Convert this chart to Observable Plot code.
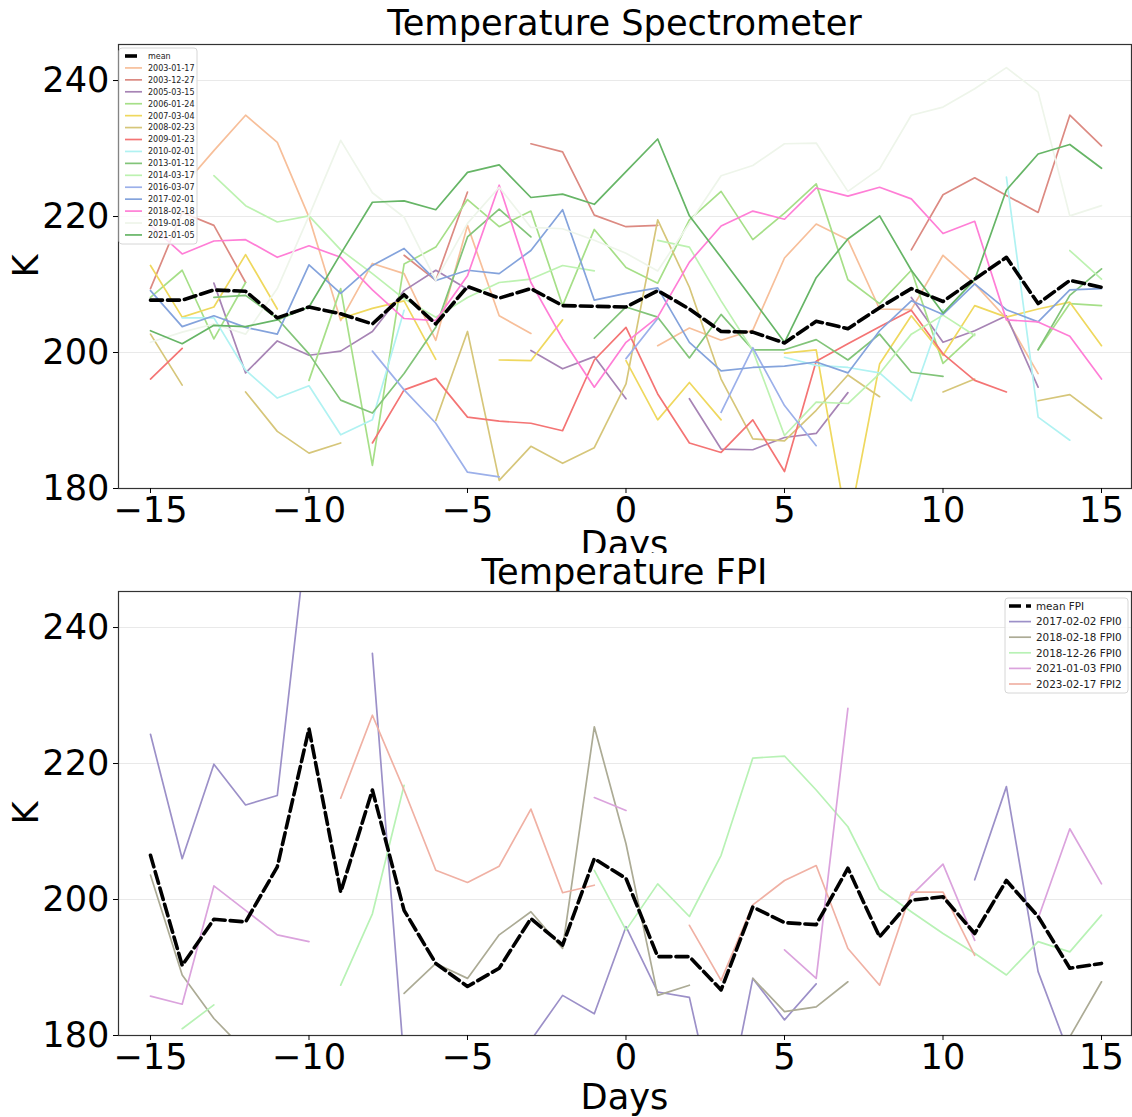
<!DOCTYPE html>
<html><head><meta charset="utf-8">
<script src="https://cdn.jsdelivr.net/npm/d3@7"></script>
<script src="https://cdn.jsdelivr.net/npm/@observablehq/plot@0.6"></script>
<style>
body{margin:0;background:#fff;font-family:"DejaVu Sans";}
#fig{position:relative;width:1132px;height:1117px;overflow:hidden;background:#fff}
.pane{position:absolute;left:0;width:1132px;overflow:hidden}
.big{position:absolute;font-family:"DejaVu Sans";font-size:35.2px;line-height:40px;white-space:nowrap;color:#000}
.ttl{left:118px;width:1013px;text-align:center}
.ylab{width:40px;height:40px;text-align:center;transform:rotate(-90deg)}
#leg{position:absolute;left:0;top:0;pointer-events:none}
</style></head><body>
<div id="fig">
  <div class="pane" id="topPane" style="top:0;height:553px">
    <div class="big ttl" style="top:524px">Days</div>
  </div>
  <div class="pane" id="botPane" style="top:547px;height:570px">
    <div class="big ttl" style="top:530px">Days</div>
  </div>
  <div class="big ttl" style="top:3px">Temperature Spectrometer</div>
  <div class="big ttl" style="top:552px">Temperature FPI</div>
  <div class="big ylab" style="left:6px;top:246px">K</div>
  <div class="big ylab" style="left:6px;top:793px">K</div>
</div>
<script>
// ---------- data ----------
const days = d3.range(-15, 16);

// Spectrometer
const meanSpec = [207.7,207.7,209.2,209.0,205.1,206.7,205.7,204.2,208.5,204.2,209.7,208.0,209.4,206.9,206.8,206.7,209.1,206.4,203.1,203.0,201.4,204.6,203.5,206.6,209.4,207.5,210.8,214.0,207.2,210.6,209.6];
const s20030117 = [null,224.3,229.7,234.9,230.9,219.9,204.7,213.1,211.6,201.8,218.7,205.4,202.8,null,null,null,201.0,203.6,201.8,203.3,213.9,218.9,216.6,206.4,206.3,214.3,210.1,205.0,196.9,null,null];
const s20031227 = [209.4,220.6,218.7,210.3,null,null,null,null,214.3,210.6,223.6,null,230.7,229.5,220.2,218.5,218.7,null,null,null,null,null,null,null,215.1,223.2,225.7,223.1,220.6,234.9,230.4];
const s20050315 = [null,null,210.2,197.0,201.7,199.6,200.2,203.1,209.1,212.1,209.3,null,200.3,197.6,199.4,193.2,null,193.2,185.8,185.7,187.5,188.1,194.1,null,208.1,201.5,203.2,205.4,194.9,null,null];
const s20060124 = [208.1,212.1,202.0,210.3,null,195.9,209.4,183.4,213.0,215.5,222.5,218.5,220.8,206.9,218.1,212.5,210.2,219.5,223.7,216.6,220.5,224.8,210.7,207.2,212.1,198.4,202.7,null,200.4,207.2,206.9];
const s20070304 = [212.8,205.2,206.7,214.4,206.4,null,205.0,206.5,207.6,199.0,null,198.9,198.8,204.8,null,198.8,190.1,195.6,190.1,null,199.9,200.4,174.0,198.3,205.4,199.6,206.9,205.2,206.4,207.4,201.0];
const s20080223 = [202.7,195.2,null,194.2,188.4,185.2,186.7,null,null,190.0,203.1,181.2,186.2,183.7,186.0,195.4,219.5,209.6,196.1,187.3,187.0,191.5,196.7,193.5,null,194.2,196.1,null,192.9,193.8,190.3];
const s20090123 = [196.1,200.6,null,null,null,null,null,186.7,194.5,196.2,190.5,189.9,189.6,188.5,198.9,203.7,193.9,186.7,185.3,190.1,182.5,198.7,201.3,203.8,206.2,199.8,195.9,194.2,null,null,null];
const s20100201 = [null,205.1,205.1,197.4,193.3,195.1,187.9,190.1,206.2,null,null,null,null,null,null,null,null,null,null,null,199.3,198.1,197.8,197.0,192.9,206.3,null,225.8,190.5,187.1,null];
const s20130112 = [null,null,208.1,208.4,205.0,199.8,193.0,191.1,196.9,203.7,217.0,221.1,217.0,null,202.1,206.7,205.2,199.2,205.6,200.4,200.4,201.9,198.9,202.7,197.1,196.5,null,null,200.4,208.4,212.3];
const s20140317 = [null,null,226.0,221.6,219.2,220.1,215.1,211.6,207.9,205.2,208.1,210.3,210.8,212.8,212.0,null,216.5,215.5,207.6,200.3,187.8,192.7,192.5,196.9,202.7,205.5,202.5,null,null,215.0,210.8];
const s20160307 = [null,null,null,null,null,null,null,200.2,194.5,189.6,182.4,181.7,null,null,null,199.1,205.0,null,191.2,200.7,192.2,186.3,null,null,null,null,null,null,null,null,null];
const s20170201 = [209.1,203.8,205.4,203.7,202.7,212.9,208.7,212.8,215.3,210.6,212.1,211.6,215.0,221.0,207.7,208.7,209.5,201.5,197.3,197.8,198.0,198.6,197.0,203.2,207.6,205.6,210.1,206.3,204.5,209.2,209.4];
const s20180218 = [218.7,214.5,216.4,216.6,214.0,215.7,214.0,209.2,205.0,204.7,211.3,224.6,210.3,202.0,194.9,201.5,205.2,213.3,218.6,220.8,219.6,224.2,223.0,224.3,222.6,217.5,219.3,204.8,204.5,202.4,196.1];
const s20190108 = [201.5,203.0,204.2,202.7,209.4,220.1,231.2,223.5,219.9,210.6,219.0,224.3,218.4,218.2,216.5,214.6,212.0,219.0,226.0,227.5,230.7,230.8,223.7,227.0,234.9,236.1,238.8,241.9,238.3,220.1,221.6];
const s20210105 = [203.2,201.3,204.0,203.8,204.8,206.7,214.5,222.1,222.3,221.0,226.5,227.6,222.8,223.3,221.8,226.6,231.4,220.1,214.0,207.8,201.5,211.0,216.7,220.1,212.1,205.8,210.7,223.9,229.2,230.6,227.1];

const specNames = ["2003-01-17","2003-12-27","2005-03-15","2006-01-24","2007-03-04","2008-02-23","2009-01-23","2010-02-01","2013-01-12","2014-03-17","2016-03-07","2017-02-01","2018-02-18","2019-01-08","2021-01-05"];
const specValues = [s20030117,s20031227,s20050315,s20060124,s20070304,s20080223,s20090123,s20100201,s20130112,s20140317,s20160307,s20170201,s20180218,s20190108,s20210105];
const specColors = ["#f7bf9a","#dc8a82","#a784b5","#a6df88","#efd85e","#d6c67a","#f47474","#b0f2f2","#82c479","#bdf2b1","#9cb0ea","#84a3dc","#ff7ed6","#eef5ea","#66b566"];

// FPI
const meanFPI = [206.5,190.3,197.1,196.7,204.8,225.1,201.1,216.1,198.4,190.6,187.2,189.9,197.2,193.3,206.0,203.1,191.6,191.6,186.7,198.9,196.6,196.3,204.6,194.5,199.9,200.4,195.0,202.8,197.5,189.9,190.6];
const f20170202 = [224.3,206.0,219.9,213.9,215.3,256.4,null,236.2,176.0,177.0,170.7,170.0,179.3,185.9,183.2,196.0,186.4,185.6,165.0,188.4,182.3,187.6,null,null,null,null,202.9,216.6,189.4,177.0,174.5];
const f20180218 = [203.6,188.9,182.5,177.7,null,null,null,null,186.2,190.6,188.4,194.8,198.2,192.8,225.4,208.2,185.9,187.4,null,188.4,183.5,184.2,187.9,null,null,null,null,null,null,179.8,187.9];
const f20181226 = [null,181.0,184.5,null,null,null,187.4,197.9,216.8,null,null,null,null,null,204.3,195.5,202.3,197.5,206.5,220.8,221.1,216.1,210.7,201.5,198.2,195.0,192.1,188.9,193.8,192.3,197.7];
const f20210103 = [185.8,184.6,202.0,198.4,194.8,193.8,null,null,null,null,null,null,null,null,215.0,213.1,null,null,null,null,192.6,188.4,228.1,null,200.6,205.2,194.0,null,197.2,210.4,202.3];
const f20230217 = [null,null,null,null,null,null,214.9,227.1,216.1,204.3,202.5,204.9,213.3,201.0,202.1,null,null,196.2,188.1,199.2,202.8,205.0,192.8,187.4,201.1,201.1,191.8,null,null,null,null];

const fpiNames = ["2017-02-02 FPI0","2018-02-18 FPI0","2018-12-26 FPI0","2021-01-03 FPI0","2023-02-17 FPI2"];
const fpiValues = [f20170202,f20180218,f20181226,f20210103,f20230217];
const fpiColors = ["#9c90c8","#acab95","#b8f2b5","#dba3dd","#f0b1a4"];

const xTicks = [-15,-10,-5,0,5,10,15];
const yTicks = [180,200,220,240];

// ---------- build ----------
function toRows(names, values) {
  const rows = [];
  names.forEach((n, k) => values[k].forEach((v, i) => rows.push({day: days[i], value: v, series: n})));
  return rows;
}
const meanRows = vals => vals.map((v, i) => ({day: days[i], value: v}));
const fmt = d => d < 0 ? "\u2212" + Math.abs(d) : String(d);

function chart(rows, names, colors, mrows) {
  return Plot.plot({
    width: 1132, height: 560,
    marginLeft: 118, marginRight: 1, marginTop: 44, marginBottom: 72,
    x: {domain: [-16.009, 15.946], label: null},
    y: {domain: [180, 245.3], label: null},
    color: {domain: names, range: colors},
    style: {fontFamily: "DejaVu Sans", fontSize: "35.2px", background: "transparent", color: "#000", overflow: "hidden"},
    marks: [
      Plot.gridY([200, 220, 240], {stroke: "#e9e9e9", strokeOpacity: 1, strokeWidth: 1}),
      Plot.line(rows, {x: "day", y: "value", z: "series", stroke: "series", strokeWidth: 1.7, clip: true}),
      Plot.line(mrows, {x: "day", y: "value", stroke: "#000", strokeWidth: 3.6, strokeDasharray: "12,5", clip: true}),
      Plot.frame({stroke: "#333", strokeWidth: 1.2}),
      Plot.axisX({ticks: xTicks, tickFormat: fmt, tickSize: 5, tickPadding: 3, label: null}),
      Plot.axisY({ticks: yTicks, tickSize: 5, tickPadding: 4, label: null})
    ]
  });
}

const topSvg = chart(toRows(specNames, specValues), specNames, specColors, meanRows(meanSpec));
const botSvg = chart(toRows(fpiNames, fpiValues), fpiNames, fpiColors, meanRows(meanFPI));
const tp = document.getElementById("topPane"), bp = document.getElementById("botPane");
tp.insertBefore(topSvg, tp.firstChild);
bp.insertBefore(botSvg, bp.firstChild);

// ---------- legends ----------
const leg = d3.select("#fig").append("svg").attr("id", "leg").attr("width", 1132).attr("height", 1117);
function legend(x, y, w, h, y0, dy, lx0, lx1, tx, fs, labels, colors, meanLabel) {
  const g = leg.append("g");
  g.append("rect").attr("x", x).attr("y", y).attr("width", w).attr("height", h).attr("rx", 3)
    .attr("fill", "#fff").attr("fill-opacity", 0.82).attr("stroke", "#d6d6d6");
  const all = [meanLabel, ...labels];
  all.forEach((lab, i) => {
    const cy = y0 + i * dy;
    g.append("line").attr("x1", lx0).attr("x2", lx1).attr("y1", cy).attr("y2", cy)
      .attr("stroke", i === 0 ? "#000" : colors[i - 1])
      .attr("stroke-width", i === 0 ? 3.6 : 1.7)
      .attr("stroke-dasharray", i === 0 ? "12,5" : null);
    g.append("text").attr("x", tx).attr("y", cy).attr("dy", "0.36em")
      .attr("font-family", "DejaVu Sans").attr("font-size", fs).attr("fill", "#222").text(lab);
  });
}
legend(119, 48, 78, 196, 56, 11.93, 125, 142, 148, 8, specNames, specColors, "mean");
legend(1005, 598, 123, 95, 606, 15.6, 1009, 1031, 1036, 10.4, fpiNames, fpiColors, "mean FPI");
</script>
</body></html>
